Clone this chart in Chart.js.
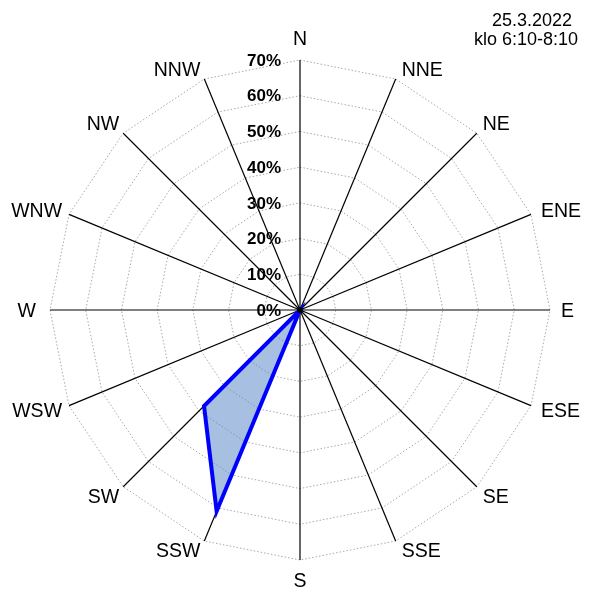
<!DOCTYPE html>
<html>
<head>
<meta charset="utf-8">
<script src="https://cdn.jsdelivr.net/npm/chart.js@4.4.1/dist/chart.umd.min.js"></script>
<style>
  html, body { margin: 0; padding: 0; background: #fff; }
  #wrap { width: 593px; height: 592px; position: relative; }
</style>
</head>
<body>
<div id="wrap"><canvas id="rose"></canvas></div>
<script>
const DIRECTIONS = ["N", "NNE", "NE", "ENE", "E", "ESE", "SE", "SSE",
                    "S", "SSW", "SW", "WSW", "W", "WNW", "NW", "NNW"];
const SHARE = [0, 0, 0, 0, 0, 0, 0, 0, 0, 61, 38, 0, 0, 0, 0, 0];
const TITLE_LINES = ["25.3.2022", "klo 6:10-8:10"];
const R_MAX = 70;
const R_STEP = 10;

const FONT = '"Liberation Sans", Arial, sans-serif';
const pct = (v) => `${v}%`;

// Excel-style labels: point names hug the outer ring, tick labels sit left of the N axis
const roseLabels = {
  id: "roseLabels",
  afterDatasetsDraw(chart) {
    const r = chart.scales.r;
    const ctx = chart.ctx;
    const R = r.drawingArea;
    ctx.save();

    // centre dot
    ctx.fillStyle = "#000";
    ctx.beginPath();
    ctx.arc(r.xCenter, r.yCenter, 3, 0, Math.PI * 2);
    ctx.fill();

    // direction labels
    ctx.font = `19.5px ${FONT}`;
    ctx.fillStyle = "#000";
    ctx.textBaseline = "alphabetic";
    const capH = 14;
    DIRECTIONS.forEach((name, i) => {
      const a = (i * 2 * Math.PI) / DIRECTIONS.length;
      const s = Math.sin(a), c = Math.cos(a);
      const p = r.getPointPosition(i, R);
      let x = p.x, y = p.y;
      if (Math.abs(s) < 0.01) {
        ctx.textAlign = "center";
        y = c > 0 ? p.y - 15 : p.y + 13 + capH;
      } else if (Math.abs(c) < 0.01) {
        ctx.textAlign = s > 0 ? "left" : "right";
        x = p.x + (s > 0 ? 11 : -14);
        y = p.y + capH / 2;
      } else if (Math.abs(c) < 0.5) {
        ctx.textAlign = s > 0 ? "left" : "right";
        x = p.x + (s > 0 ? 10 : -7);
        y = p.y - (c > 0 ? 4 : -4) + capH / 2;
      } else {
        ctx.textAlign = s > 0 ? "left" : "right";
        x = p.x + (s > 0 ? 6 : -4);
        y = c > 0 ? p.y - 3 : p.y + 2 + capH;
      }
      ctx.fillText(name, x, y);
    });

    // radial tick labels
    ctx.font = `bold 17px ${FONT}`;
    ctx.textAlign = "right";
    ctx.textBaseline = "middle";
    r.ticks.forEach((t) => {
      const y = r.yCenter - r.getDistanceFromCenterForValue(t.value);
      ctx.fillText(pct(t.value), r.xCenter - 19, y + 1);
    });

    // date / time stamp
    ctx.font = `18px ${FONT}`;
    ctx.textAlign = "center";
    ctx.textBaseline = "middle";
    ctx.fillText(TITLE_LINES[0], 532, 21);
    ctx.fillText(TITLE_LINES[1], 526, 40);
    ctx.restore();
  },
};

new Chart(document.getElementById("rose"), {
  type: "radar",
  data: {
    labels: DIRECTIONS,
    datasets: [{
      label: "Tuulen suunta",
      data: SHARE,
      borderColor: "#0000ff",
      backgroundColor: "rgba(79,127,193,0.5)",
      borderWidth: 4,
      borderJoinStyle: "miter",
      pointRadius: 0,
      pointHoverRadius: 0,
      tension: 0,
      fill: true,
    }],
  },
  options: {
    responsive: true,
    maintainAspectRatio: false,
    animation: false,
    devicePixelRatio: 1,
    layout: { padding: { left: 50, right: 43, top: 60, bottom: 32 } },
    scales: {
      r: {
        min: 0,
        max: R_MAX,
        ticks: { stepSize: R_STEP, display: false, callback: pct },
        grid: { color: "#a8a8a8", lineWidth: 1, circular: false },
        border: { dash: [1.5, 2] },
        angleLines: { color: "#000", lineWidth: 1.2 },
        pointLabels: { display: false },
      },
    },
    plugins: {
      legend: { display: false },
      tooltip: { enabled: false },
    },
  },
  plugins: [roseLabels],
});
</script>
</body>
</html>
